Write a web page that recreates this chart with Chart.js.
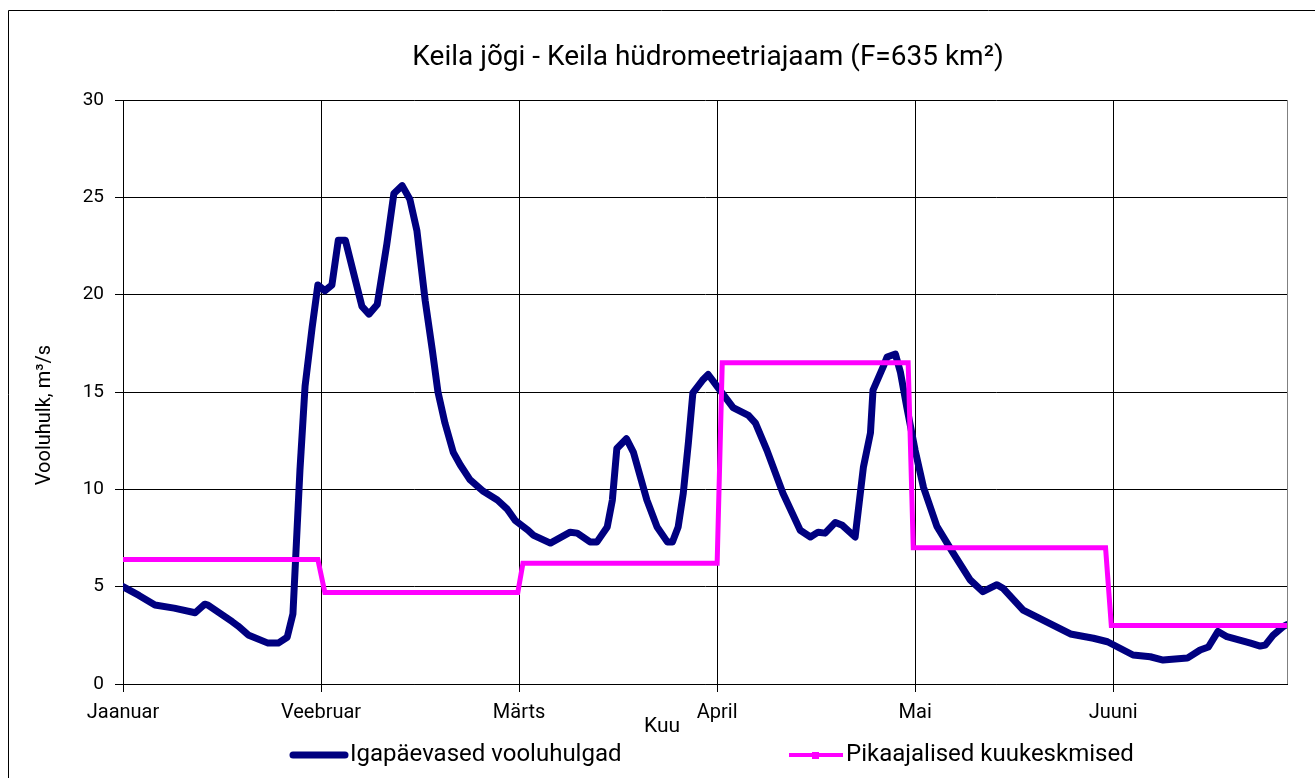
<!DOCTYPE html>
<html>
<head>
<meta charset="utf-8">
<script src="https://cdn.jsdelivr.net/npm/chart.js@4"></script>
<style>
  body { margin: 0; background: #fff; }
</style>
</head>
<body>
<canvas id="myChart" width="1315" height="778"></canvas>
<script>
// months along the x axis, one label every 31 days
const months = ['Jaanuar', 'Veebruar', 'Märts', 'April', 'Mai', 'Juuni']
const monthTicks = [0, 31, 62, 93, 124, 155]

// daily discharge, day number from 1 Jan
const flowDays = [0, 2.5, 5, 8, 11.3, 12.8, 13.3, 17.1, 18, 19.6, 22.7, 24.3, 25.7, 26.6, 27.7, 28.5, 29.6, 30.5,
    31.6, 32.7, 33.7, 34.8, 37.4, 38.5, 39.8, 41.3, 42.4, 43.7, 44.9, 46, 47.3, 48.4, 49.3, 50.4, 51.7, 52.8,
    54.3, 56.4, 58.6, 60.1, 61.4, 63.4, 64.2, 66.9, 70, 71.1, 73.1, 74.2, 75.8, 76.6, 77.3, 78.8, 79.9,
    82, 83.6, 85.2, 86, 86.9, 87.7, 88.5, 89.2, 90.7, 91.6, 93.2, 95.5, 97.9, 99, 100.8, 103.3, 106,
    107.6, 108.8, 109.9, 111.5, 112.6, 114.6, 115.9, 117, 117.4, 119, 119.6, 120.9, 121.7, 122.7, 124,
    125.3, 127.4, 130, 132.6, 134.6, 136.8, 137.8, 140.9, 145.1, 148.3, 151.9, 154.1, 158.1, 160.8,
    162.8, 166.6, 168.6, 169.9, 171.4, 172.8, 176.5, 178, 178.8, 180, 181.6, 182.2]
const flowValues = [5.0, 4.55, 4.06, 3.9, 3.66, 4.1, 4.05, 3.2, 2.98, 2.52, 2.1, 2.1, 2.4, 3.6, 11.0, 15.3, 18.3, 20.5,
    20.2, 20.5, 22.8, 22.8, 19.4, 19.0, 19.5, 22.6, 25.2, 25.6, 24.9, 23.3, 19.7, 17.2, 15.0, 13.4, 11.9, 11.25,
    10.5, 9.9, 9.45, 9.0, 8.4, 7.9, 7.65, 7.24, 7.8, 7.75, 7.3, 7.3, 8.07, 9.45, 12.1, 12.6, 11.9,
    9.45, 8.07, 7.3, 7.3, 8.07, 9.8, 12.4, 14.95, 15.6, 15.9, 15.2, 14.2, 13.8, 13.4, 12.0, 9.8, 7.9,
    7.55, 7.8, 7.75, 8.3, 8.15, 7.55, 11.15, 12.9, 15.1, 16.3, 16.8, 16.95, 16.0, 14.2, 12.0,
    10.1, 8.1, 6.7, 5.35, 4.74, 5.1, 4.9, 3.8, 3.1, 2.57, 2.35, 2.17, 1.49, 1.4,
    1.23, 1.33, 1.75, 1.9, 2.7, 2.43, 2.1, 1.95, 2.0, 2.5, 2.95, 3.05]

// long term monthly means, drawn as steps
const meanDays = [0, 30.5, 31.6, 61.8, 62.6, 93.0, 93.8, 122.9, 123.7, 153.8, 154.7, 182.2]
const meanValues = [6.4, 6.4, 4.7, 4.7, 6.2, 6.2, 16.5, 16.5, 7.0, 7.0, 3.0, 3.0]

const legendItems = ['Igapäevased vooluhulgad', 'Pikaajalised kuukeskmised']

Chart.defaults.font.family = 'Roboto'
Chart.defaults.color = '#000'

const toPoints = (xs, ys) => xs.map((x, i) => ({ x: x, y: ys[i] }))

const decor = {
    id: 'decor',
    afterDraw(chart) {
        const ctx = chart.ctx
        const a = chart.chartArea
        ctx.save()
        // outer frame
        ctx.strokeStyle = '#000'
        ctx.lineWidth = 1
        ctx.beginPath()
        ctx.moveTo(8.5, 778)
        ctx.lineTo(8.5, 10.5)
        ctx.lineTo(1315, 10.5)
        ctx.stroke()
        // plot area right edge
        ctx.strokeStyle = '#808080'
        ctx.beginPath()
        ctx.moveTo(Math.round(a.right) + 0.5, a.top)
        ctx.lineTo(Math.round(a.right) + 0.5, a.bottom)
        ctx.stroke()

        ctx.fillStyle = '#000'
        ctx.textBaseline = 'middle'
        ctx.textAlign = 'center'
        ctx.font = '28px Roboto'
        ctx.fillText('Keila jõgi - Keila hüdromeetriajaam (F=635 km²)', 708, 58)

        ctx.font = '21px Roboto'
        ctx.fillText('Kuu', 662, 727)

        ctx.save()
        ctx.translate(45, 415)
        ctx.rotate(-Math.PI / 2)
        ctx.font = '20px Roboto'
        ctx.fillText('Vooluhulk, m³/s', 0, 0)
        ctx.restore()

        // legend
        ctx.lineCap = 'round'
        ctx.strokeStyle = '#000080'
        ctx.lineWidth = 7
        ctx.beginPath()
        ctx.moveTo(293, 755)
        ctx.lineTo(345, 755)
        ctx.stroke()
        ctx.strokeStyle = '#ff00ff'
        ctx.lineWidth = 4
        ctx.lineCap = 'butt'
        ctx.beginPath()
        ctx.moveTo(789, 755)
        ctx.lineTo(843, 755)
        ctx.stroke()
        ctx.fillStyle = '#ff00ff'
        ctx.fillRect(812, 752, 7, 7)

        ctx.fillStyle = '#000'
        ctx.textAlign = 'left'
        ctx.font = '24px Roboto'
        ctx.fillText(legendItems[0], 350, 755)
        ctx.fillText(legendItems[1], 846, 755)
        ctx.restore()
    }
}

let ctx = document.getElementById('myChart').getContext('2d')
let myChart = new Chart(ctx, {
    type: 'line',
    data: {
        datasets: [{
            label: legendItems[0],
            data: toPoints(flowDays, flowValues),
            borderColor: '#000080',
            borderWidth: 7,
            borderJoinStyle: 'round',
            borderCapStyle: 'round',
            pointRadius: 0,
            tension: 0,
            order: 1
        }, {
            label: legendItems[1],
            data: toPoints(meanDays, meanValues),
            borderColor: '#ff00ff',
            borderWidth: 5,
            pointRadius: 0,
            tension: 0,
            order: 0
        }]
    },
    options: {
        responsive: false,
        animation: false,
        layout: { padding: { top: 100, right: 28, left: 0, bottom: 0 } },
        plugins: {
            legend: { display: false },
            title: { display: false },
            tooltip: { enabled: false }
        },
        scales: {
            x: {
                type: 'linear',
                min: 0,
                max: 182.2,
                afterBuildTicks: s => { s.ticks = monthTicks.map(v => ({ value: v })) },
                afterFit: s => { s.height = 94 },
                ticks: {
                    autoSkip: false,
                    maxRotation: 0,
                    padding: 9,
                    font: { size: 20 },
                    callback: v => months[monthTicks.indexOf(v)]
                },
                grid: { color: '#000', tickLength: 8 },
                border: { color: '#000' }
            },
            y: {
                min: 0,
                max: 30,
                afterFit: s => { s.width = 123 },
                ticks: { stepSize: 5, padding: 11, font: { size: 19 } },
                grid: { color: '#000', tickLength: 8 },
                border: { color: '#000' }
            }
        }
    },
    plugins: [decor]
})
</script>
</body>
</html>
